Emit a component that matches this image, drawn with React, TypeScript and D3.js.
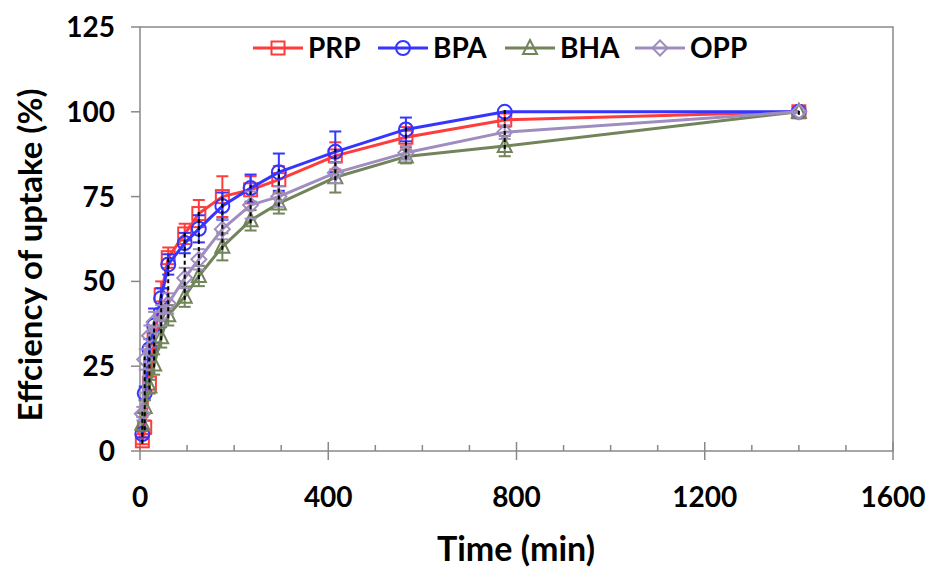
import React from "react";
import * as d3 from "d3";

const times = [5, 10, 20, 30, 45, 60, 95, 125, 175, 235, 295, 415, 565, 775, 1400];
const prp = [3, 7, 20, 33, 46, 57, 64, 70, 75, 77, 80, 87, 92.5, 97.6, 100];
const bpa = [5, 17, 30, 37, 45, 55, 61.3, 65.5, 72.2, 77.5, 82.2, 88.2, 94.8, 100, 100];
const bha = [8, 13, 19, 25.5, 33.5, 40, 45.5, 51.6, 60.2, 68, 73, 80.7, 86.8, 89.9, 100];
const opp = [11, 27, 34, 38, 40, 43.5, 51, 56.5, 65.4, 72.5, 75, 82, 87.9, 94, 100];
const prpErr = [1, 2, 3, 3, 4, 3, 3, 4, 6, 4, 4, 4, 3, 2, 0];
const bpaErr = [1, 2, 3, 5, 3, 3, 3, 4, 4, 4, 5.5, 6, 3.5, 0, 0];
const bhaErr = [2, 2, 2, 3, 3, 3, 3, 3, 4, 3, 3, 4.5, 2, 3, 0];
const oppErr = [2, 3, 3, 3, 3, 3, 3, 3, 3, 4, 3, 3, 2, 2, 0];
const seriesNames = ["PRP", "BPA", "BHA", "OPP"];
const xTicks = [0, 400, 800, 1200, 1600];
const yTicks = [0, 25, 50, 75, 100, 125];

const colors = ["#ff3c3c", "#3535ff", "#72845a", "#a08dbf"];
const shapes = ["square", "circle", "triangle", "diamond"];
const FONT = "Lato, 'Open Sans', sans-serif";

function Marker({ shape, x, y, color }: { shape: string; x: number; y: number; color: string }) {
  const sw = 2;
  if (shape === "square") return <rect x={x - 6.5} y={y - 6.5} width={13} height={13} fill="none" stroke={color} strokeWidth={sw} />;
  if (shape === "circle") return <circle cx={x} cy={y} r={7} fill="none" stroke={color} strokeWidth={sw} />;
  if (shape === "triangle")
    return <path d={`M${x},${y - 8}L${x + 7},${y + 6}L${x - 7},${y + 6}Z`} fill="none" stroke={color} strokeWidth={sw} />;
  return <path d={`M${x},${y - 7.5}L${x + 7.5},${y}L${x},${y + 7.5}L${x - 7.5},${y}Z`} fill="none" stroke={color} strokeWidth={sw} />;
}

export default function App() {
  const x = d3.scaleLinear().domain([0, 1600]).range([140, 893]);
  const y = d3.scaleLinear().domain([0, 125]).range([451, 27]);
  const data = [prp, bpa, bha, opp];
  const errs = [prpErr, bpaErr, bhaErr, oppErr];
  const line = d3
    .line<number>()
    .x((_, i) => x(times[i]))
    .y((v) => y(v));
  const minorTicks = d3.range(100, 1600, 100).filter((t) => t % 400 !== 0);
  const legendX = [253, 378, 505, 635];

  return (
    <svg width={936} height={569} style={{ position: "absolute", left: 0, top: 0, background: "#fff" }} fontFamily={FONT}>
      <rect x={0} y={0} width={936} height={569} fill="#fff" />
      {/* plot border */}
      <rect x={x(0)} y={y(125)} width={x(1600) - x(0)} height={y(0) - y(125)} fill="none" stroke="#898989" strokeWidth={1.5} />
      {/* y ticks */}
      {yTicks.map((t) => (
        <g key={"y" + t}>
          <line x1={x(0) - 9} x2={x(0)} y1={y(t)} y2={y(t)} stroke="#898989" strokeWidth={1.5} />
          <text x={115} y={y(t)} dy="0.36em" textAnchor="end" fontSize={28} fontWeight={700} fill="#000">
            {t}
          </text>
        </g>
      ))}
      {/* x ticks */}
      {minorTicks.map((t) => (
        <line key={"m" + t} x1={x(t)} x2={x(t)} y1={y(0)} y2={y(0) - 6} stroke="#898989" strokeWidth={1.5} />
      ))}
      {xTicks.map((t) => (
        <g key={"x" + t}>
          <line x1={x(t)} x2={x(t)} y1={y(0) - 9} y2={y(0) + 9} stroke="#898989" strokeWidth={1.5} />
          <text x={x(t)} y={497} dy="0.36em" textAnchor="middle" fontSize={28} fontWeight={700} fill="#000">
            {t}
          </text>
        </g>
      ))}
      <text x={516} y={549} dy="0.36em" textAnchor="middle" fontSize={34} fontWeight={700} fill="#000">
        Time (min)
      </text>
      <text
        transform={`translate(30,255) rotate(-90)`}
        dy="0.36em"
        textAnchor="middle"
        fontSize={33}
        fontWeight={700}
        fill="#000"
      >
        Effciency of uptake (%)
      </text>
      {/* series */}
      {data.map((vals, si) => (
        <g key={"s" + si}>
          {vals.map((v, i) =>
            errs[si][i] > 0 ? (
              <g key={"e" + i}>
                <line x1={x(times[i])} x2={x(times[i])} y1={y(v - errs[si][i])} y2={y(v + errs[si][i])} stroke={colors[si]} strokeWidth={2} />
                <line x1={x(times[i]) - 6} x2={x(times[i]) + 6} y1={y(v - errs[si][i])} y2={y(v - errs[si][i])} stroke={colors[si]} strokeWidth={2} />
                <line x1={x(times[i]) - 6} x2={x(times[i]) + 6} y1={y(v + errs[si][i])} y2={y(v + errs[si][i])} stroke={colors[si]} strokeWidth={2} />
              </g>
            ) : null
          )}
          <path d={line(vals) || ""} fill="none" stroke={colors[si]} strokeWidth={3} strokeLinejoin="round" />
          {vals.map((v, i) => (
            <Marker key={"p" + i} shape={shapes[si]} x={x(times[i])} y={y(v)} color={colors[si]} />
          ))}
        </g>
      ))}
      {/* black dashed bars */}
      {times.map((t, i) => {
        const vs = data.map((d) => d[i]);
        const lo = d3.min(vs) as number;
        const hi = d3.max(vs) as number;
        return (
          <line key={"b" + i} x1={x(t)} x2={x(t)} y1={y(lo) + 3} y2={y(hi) - 3} stroke="#000" strokeWidth={2} strokeDasharray="4,3" />
        );
      })}
      {/* legend */}
      {seriesNames.map((n, si) => (
        <g key={"l" + si}>
          <line x1={legendX[si]} x2={legendX[si] + 50} y1={48} y2={48} stroke={colors[si]} strokeWidth={3} />
          <Marker shape={shapes[si]} x={legendX[si] + 25} y={48} color={colors[si]} />
          <text x={legendX[si] + 55} y={48} dy="0.36em" fontSize={28} fontWeight={700} fill="#000">
            {n}
          </text>
        </g>
      ))}
    </svg>
  );
}
